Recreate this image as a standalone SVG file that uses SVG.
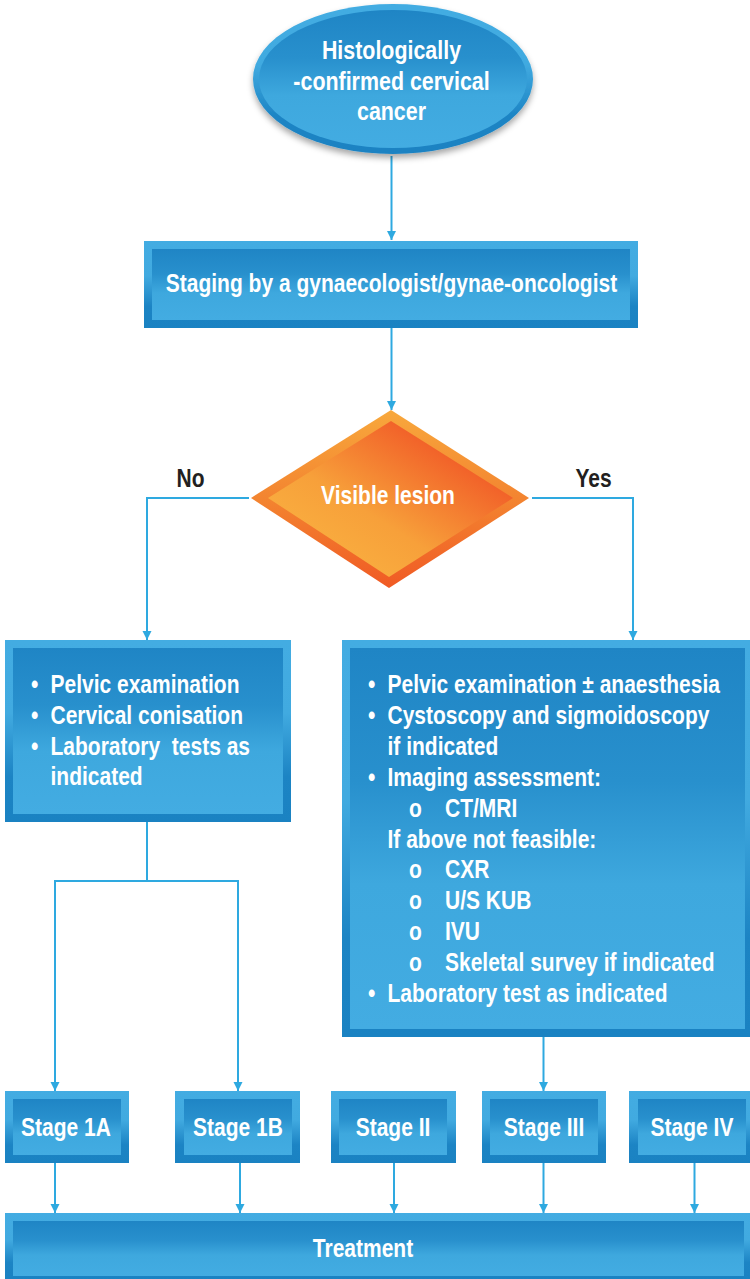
<svg xmlns="http://www.w3.org/2000/svg" width="750" height="1279" viewBox="0 0 750 1279">
<defs>
  <linearGradient id="frameG" x1="0" y1="0" x2="0" y2="1">
    <stop offset="0" stop-color="#43ace2"/>
    <stop offset="0.4" stop-color="#41aae0"/>
    <stop offset="0.75" stop-color="#1c84c4"/>
    <stop offset="1" stop-color="#1a82c2"/>
  </linearGradient>
  <linearGradient id="innerG" x1="0" y1="0" x2="0" y2="1">
    <stop offset="0" stop-color="#1f85c5"/>
    <stop offset="0.35" stop-color="#2890cd"/>
    <stop offset="0.62" stop-color="#3ea8de"/>
    <stop offset="1" stop-color="#43ace2"/>
  </linearGradient>
  <linearGradient id="dOuter" x1="0" y1="0" x2="0" y2="1">
    <stop offset="0" stop-color="#f8a83c"/>
    <stop offset="0.5" stop-color="#f38430"/>
    <stop offset="1" stop-color="#f05a24"/>
  </linearGradient>
  <linearGradient id="dInner" x1="0.2" y1="0.8" x2="0.8" y2="0.2">
    <stop offset="0" stop-color="#f9ad3f"/>
    <stop offset="0.35" stop-color="#f7a03a"/>
    <stop offset="1" stop-color="#f15a27"/>
  </linearGradient>
  <filter id="shadow" x="-10%" y="-10%" width="120%" height="130%">
    <feDropShadow dx="0" dy="4" stdDeviation="3" flood-color="#000" flood-opacity="0.35"/>
  </filter>
  <marker id="arr" viewBox="0 0 10 10" refX="10" refY="5" markerWidth="9" markerHeight="14" markerUnits="userSpaceOnUse" orient="auto">
    <path d="M0,0 L10,5 L0,10 z" fill="#2ea9e0"/>
  </marker>
  <style>
    .frame { fill: url(#frameG); }
    .inner { fill: url(#innerG); }
    .t { font-family: "Liberation Sans", Arial, sans-serif; font-weight: bold; font-size: 25px; fill: #ffffff; }
    .c { text-anchor: middle; }
    .lbl { font-family: "Liberation Sans", Arial, sans-serif; font-weight: bold; font-size: 25px; fill: #231f20; text-anchor: middle; }
    .conn { fill: none; stroke: #2ea9e0; stroke-width: 2; }
  </style>
</defs>
<rect width="750" height="1279" fill="#ffffff"/>

<g id="connectors">
  <path class="conn" d="M391.5,156 V240" marker-end="url(#arr)"/>
  <path class="conn" d="M391.5,328 V410" marker-end="url(#arr)"/>
  <path class="conn" d="M249,498 H147 V640" marker-end="url(#arr)"/>
  <path class="conn" d="M532,498 H633 V640" marker-end="url(#arr)"/>
  <path class="conn" d="M147,822 V881"/>
  <path class="conn" d="M147,881 H55 V1091" marker-end="url(#arr)"/>
  <path class="conn" d="M147,881 H238 V1091" marker-end="url(#arr)"/>
  <path class="conn" d="M543.5,1037 V1091" marker-end="url(#arr)"/>
  <path class="conn" d="M55,1163 V1213" marker-end="url(#arr)"/>
  <path class="conn" d="M240,1163 V1213" marker-end="url(#arr)"/>
  <path class="conn" d="M394,1163 V1213" marker-end="url(#arr)"/>
  <path class="conn" d="M543.5,1163 V1213" marker-end="url(#arr)"/>
  <path class="conn" d="M694.5,1163 V1213" marker-end="url(#arr)"/>
  <text class="lbl" transform="translate(190.5,487) scale(0.84,1)">No</text>
  <text class="lbl" transform="translate(593.5,487) scale(0.84,1)">Yes</text>
</g>

<g id="start">
  <ellipse cx="393" cy="79" rx="140" ry="75" class="frame" filter="url(#shadow)"/>
  <ellipse cx="393" cy="79" rx="134" ry="69" class="inner"/>
  <text class="t c" transform="translate(391.5,59) scale(0.84,1)" style="font-size:25.5px">Histologically</text>
  <text class="t c" transform="translate(391.5,89.5) scale(0.84,1)" style="font-size:25.5px">-confirmed cervical</text>
  <text class="t c" transform="translate(391.5,120) scale(0.84,1)" style="font-size:25.5px">cancer</text>
</g>

<g id="staging">
  <rect x="144" y="241" width="494" height="87" class="frame"/>
  <rect x="152" y="249" width="478" height="71" class="inner"/>
  <text class="t c" transform="translate(391.5,292) scale(0.84,1)">Staging by a gynaecologist/gynae-oncologist</text>
</g>

<g id="decision">
  <polygon points="391,410 529,498 389,588 251,498" fill="url(#dOuter)"/>
  <polygon points="391,421 513,498 389,577 268,498" fill="url(#dInner)"/>
  <text class="t c" transform="translate(388,504) scale(0.84,1)">Visible lesion</text>
</g>

<g id="noBox">
  <rect x="5" y="640" width="286" height="182" class="frame"/>
  <rect x="13" y="648" width="270" height="166" class="inner"/>
  <text class="t" transform="translate(31,693) scale(0.84,1)">•</text>
  <text class="t" transform="translate(50.5,693) scale(0.84,1)">Pelvic examination</text>
  <text class="t" transform="translate(31,723.5) scale(0.84,1)">•</text>
  <text class="t" transform="translate(50.5,723.5) scale(0.84,1)">Cervical conisation</text>
  <text class="t" transform="translate(31,754.5) scale(0.84,1)">•</text>
  <text class="t" transform="translate(50.5,754.5) scale(0.84,1)" xml:space="preserve">Laboratory  tests as</text>
  <text class="t" transform="translate(50.5,785) scale(0.84,1)">indicated</text>
</g>

<g id="yesBox">
  <rect x="342" y="640" width="408" height="397" class="frame"/>
  <rect x="350" y="648" width="395" height="381" class="inner"/>
  <text class="t" transform="translate(368,693) scale(0.84,1)">•</text>
  <text class="t" transform="translate(387.5,693) scale(0.84,1)">Pelvic examination ± anaesthesia</text>
  <text class="t" transform="translate(368,724) scale(0.84,1)">•</text>
  <text class="t" transform="translate(387.5,724) scale(0.84,1)">Cystoscopy and sigmoidoscopy</text>
  <text class="t" transform="translate(387.5,754.5) scale(0.84,1)">if indicated</text>
  <text class="t" transform="translate(368,785.5) scale(0.84,1)">•</text>
  <text class="t" transform="translate(387.5,785.5) scale(0.84,1)">Imaging assessment:</text>
  <text class="t" transform="translate(409,816.5) scale(0.84,1)">o</text>
  <text class="t" transform="translate(445,816.5) scale(0.84,1)">CT/MRI</text>
  <text class="t" transform="translate(387.5,847.5) scale(0.84,1)">If above not feasible:</text>
  <text class="t" transform="translate(409,878) scale(0.84,1)">o</text>
  <text class="t" transform="translate(445,878) scale(0.84,1)">CXR</text>
  <text class="t" transform="translate(409,909) scale(0.84,1)">o</text>
  <text class="t" transform="translate(445,909) scale(0.84,1)">U/S KUB</text>
  <text class="t" transform="translate(409,940) scale(0.84,1)">o</text>
  <text class="t" transform="translate(445,940) scale(0.84,1)">IVU</text>
  <text class="t" transform="translate(409,971) scale(0.84,1)">o</text>
  <text class="t" transform="translate(445,971) scale(0.84,1)">Skeletal survey if indicated</text>
  <text class="t" transform="translate(368,1001.5) scale(0.84,1)">•</text>
  <text class="t" transform="translate(387.5,1001.5) scale(0.84,1)">Laboratory test as indicated</text>
</g>

<g id="stage1A">
  <rect x="5" y="1091" width="124" height="72" class="frame"/>
  <rect x="13" y="1099" width="108" height="56" class="inner"/>
  <text class="t c" transform="translate(66,1136) scale(0.84,1)">Stage 1A</text>
</g>
<g id="stage1B">
  <rect x="175" y="1091" width="125" height="72" class="frame"/>
  <rect x="184" y="1099" width="108" height="56" class="inner"/>
  <text class="t c" transform="translate(238,1136) scale(0.84,1)">Stage 1B</text>
</g>
<g id="stage2">
  <rect x="331" y="1091" width="125" height="72" class="frame"/>
  <rect x="339" y="1099" width="108" height="56" class="inner"/>
  <text class="t c" transform="translate(393,1136) scale(0.84,1)">Stage II</text>
</g>
<g id="stage3">
  <rect x="482" y="1091" width="124" height="72" class="frame"/>
  <rect x="490" y="1099" width="108" height="56" class="inner"/>
  <text class="t c" transform="translate(544,1136) scale(0.84,1)">Stage III</text>
</g>
<g id="stage4">
  <rect x="629" y="1091" width="121" height="72" class="frame"/>
  <rect x="638" y="1099" width="108" height="56" class="inner"/>
  <text class="t c" transform="translate(692,1136) scale(0.84,1)">Stage IV</text>
</g>

<g id="treatment">
  <rect x="5" y="1213" width="745" height="66" class="frame"/>
  <rect x="13" y="1221" width="731" height="55" class="inner"/>
  <text class="t c" transform="translate(363,1257) scale(0.84,1)">Treatment</text>
</g>
</svg>
